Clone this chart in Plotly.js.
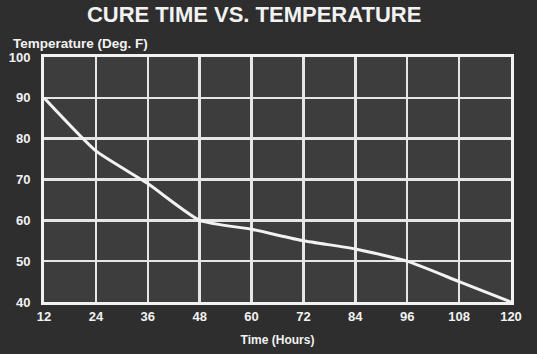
<!DOCTYPE html>
<html>
<head>
<meta charset="utf-8">
<script src="https://cdn.plot.ly/plotly-3.0.1.min.js"></script>
<style>
  html, body { margin: 0; padding: 0; background: #2e2e2e; }
  #chart { width: 537px; height: 354px; }
</style>
</head>
<body>
<div id="chart"></div>
<script>
const hours = [12, 24, 36, 48, 60, 72, 84, 96, 108, 120];
const temperatures = [90, 77, 69, 60, 57.8, 55, 53, 50, 45, 40];
const xTickValues = [12, 24, 36, 48, 60, 72, 84, 96, 108, 120];
const yTickValues = [40, 50, 60, 70, 80, 90, 100];

const chartTitle = 'CURE TIME VS. TEMPERATURE';
const yTitle = 'Temperature (Deg. F)';
const xTitle = 'Time (Hours)';

const FONT = 'Liberation Sans, Arial, sans-serif';
const INK = '#f2f2f2';

const trace = {
  x: hours,
  y: temperatures,
  type: 'scatter',
  mode: 'lines',
  line: { color: INK, width: 3, shape: 'spline', smoothing: 0.5 },
  hoverinfo: 'skip'
};

const layout = {
  width: 537,
  height: 354,
  margin: { l: 44, r: 26, t: 57, b: 52, pad: 0 },
  paper_bgcolor: '#2e2e2e',
  plot_bgcolor: '#3d3d3d',
  showlegend: false,
  title: {
    text: chartTitle,
    font: { family: FONT, size: 22, color: INK, weight: 900 },
    x: 0.45, xref: 'paper', xanchor: 'center',
    y: 0.96, yref: 'container', yanchor: 'middle'
  },
  xaxis: {
    range: [12, 120],
    tickvals: xTickValues,
    ticktext: xTickValues.map(String),
    showgrid: true,
    gridcolor: '#e6e6e6',
    gridwidth: 2.5,
    zeroline: false,
    showline: true,
    linecolor: INK,
    linewidth: 3,
    mirror: true,
    ticks: '',
    ticklabelstandoff: 0,
    tickfont: { family: FONT, size: 13, color: INK, weight: 'bold' },
    title: {
      text: xTitle,
      font: { family: FONT, size: 12, color: INK, weight: 'bold' },
      standoff: 14
    },
    fixedrange: true
  },
  yaxis: {
    range: [40, 100],
    tickvals: yTickValues,
    ticktext: yTickValues.map(String),
    showgrid: true,
    gridcolor: '#e6e6e6',
    gridwidth: 2.5,
    zeroline: false,
    showline: true,
    linecolor: INK,
    linewidth: 3,
    mirror: true,
    ticks: '',
    ticklabelstandoff: 8,
    tickfont: { family: FONT, size: 13, color: INK, weight: 'bold' },
    fixedrange: true
  },
  annotations: [{
    text: yTitle,
    xref: 'paper', yref: 'paper',
    x: -0.07, y: 1.0,
    xanchor: 'left', yanchor: 'bottom',
    yshift: 4,
    showarrow: false,
    font: { family: FONT, size: 13.5, color: INK, weight: 'bold' }
  }]
};

Plotly.newPlot('chart', [trace], layout, { staticPlot: true, displayModeBar: false });
</script>
</body>
</html>
